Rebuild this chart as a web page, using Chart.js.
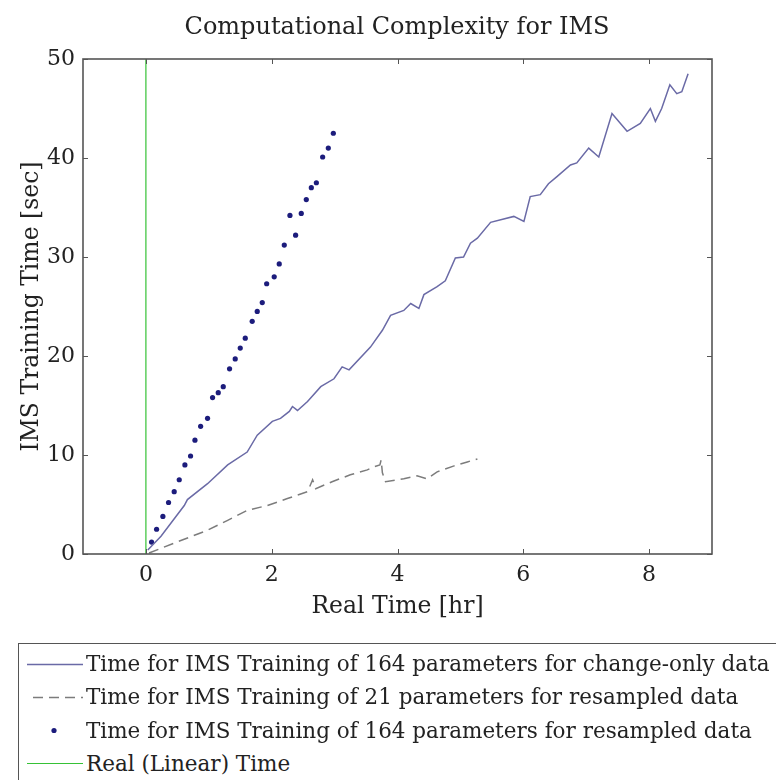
<!DOCTYPE html>
<html>
<head>
<meta charset="utf-8">
<script src="https://cdn.jsdelivr.net/npm/chart.js@4.4.1/dist/chart.umd.min.js"></script>
<style>
    html, body { margin: 0; padding: 0; background: #fff; }
    body { width: 776px; height: 780px; overflow: hidden; position: relative; font-family: "DejaVu Serif", serif; color: #222; }
    #chart-wrapper { position: absolute; left: 0; top: 0; width: 776px; height: 630px; }
    #legend { position: absolute; left: 18px; top: 643px; width: 790px; height: 160px; border: 1.5px solid #555; box-sizing: border-box; }
    .legend-row { position: absolute; left: 0; height: 33px; display: flex; align-items: center; white-space: nowrap; font-size: 21.5px; }
    .legend-row canvas { margin-left: 6px; margin-right: 3px; }
</style>
</head>
<body>
<div id="chart-wrapper"><canvas id="ims-chart"></canvas></div>
<div id="legend"></div>
<script>
const chartTitle = 'Computational Complexity for IMS';
const xTitle = 'Real Time [hr]';
const yTitle = 'IMS Training Time [sec]';

const xTicks = [0, 2, 4, 6, 8];
const yTicks = [0, 10, 20, 30, 40, 50];

const seriesLabels = [
    'Time for IMS Training of 164 parameters for change-only data',
    'Time for IMS Training of 21 parameters for resampled data',
    'Time for IMS Training of 164 parameters for resampled data',
    'Real (Linear) Time',
];

// 164 parameters, change-only data (solid)
const changeOnlyX = [0.03, 0.24, 0.61, 0.66, 0.98, 1.30, 1.61, 1.77, 2.01, 2.14, 2.28, 2.33, 2.41, 2.57, 2.78, 2.99, 3.12, 3.23, 3.57, 3.76, 3.89, 4.10, 4.21, 4.34, 4.42, 4.63, 4.76, 4.92, 5.05, 5.16, 5.27, 5.48, 5.85, 6.01, 6.11, 6.27, 6.40, 6.53, 6.75, 6.85, 7.04, 7.20, 7.41, 7.65, 7.86, 8.02, 8.10, 8.20, 8.33, 8.44, 8.52, 8.62];
const changeOnlyY = [0.4, 1.8, 4.9, 5.5, 7.1, 9.0, 10.3, 12.0, 13.4, 13.7, 14.4, 14.9, 14.5, 15.4, 16.9, 17.7, 18.9, 18.6, 20.9, 22.6, 24.1, 24.6, 25.3, 24.8, 26.2, 27.0, 27.6, 29.9, 30.0, 31.4, 31.9, 33.5, 34.1, 33.6, 36.1, 36.3, 37.4, 38.1, 39.3, 39.5, 41.0, 40.1, 44.5, 42.7, 43.5, 45.0, 43.7, 45.0, 47.4, 46.5, 46.7, 48.5];

// 21 parameters, resampled data (dashed)
const resampled21X = [0.05, 0.45, 0.98, 1.30, 1.61, 1.93, 2.25, 2.57, 2.65, 2.70, 2.96, 3.25, 3.52, 3.62, 3.72, 3.74, 3.76, 3.81, 4.10, 4.31, 4.47, 4.63, 4.90, 5.11, 5.27];
const resampled21Y = [0.1, 1.1, 2.4, 3.4, 4.4, 4.9, 5.6, 6.3, 7.5, 6.6, 7.3, 8.0, 8.5, 8.8, 9.0, 9.5, 8.2, 7.3, 7.6, 7.9, 7.6, 8.3, 8.9, 9.3, 9.6];

// 164 parameters, resampled data (dots)
const resampled164X = [0.09, 0.17, 0.27, 0.36, 0.45, 0.53, 0.62, 0.71, 0.78, 0.87, 0.98, 1.06, 1.15, 1.23, 1.33, 1.42, 1.50, 1.58, 1.69, 1.77, 1.85, 1.92, 2.04, 2.12, 2.20, 2.29, 2.38, 2.47, 2.55, 2.63, 2.71, 2.81, 2.90, 2.98];
const resampled164Y = [1.2, 2.5, 3.8, 5.2, 6.3, 7.5, 9.0, 9.9, 11.5, 12.9, 13.7, 15.8, 16.3, 16.9, 18.7, 19.7, 20.8, 21.8, 23.5, 24.5, 25.4, 27.3, 28.0, 29.3, 31.2, 34.2, 32.2, 34.4, 35.8, 37.0, 37.5, 40.1, 41.0, 42.5];

// real (linear) time
const realTimeX = [0, 0];
const realTimeY = [0, 50];

const toPoints = (xs, ys) => xs.map((x, i) => ({ x, y: ys[i] }));

const serifFont = '"DejaVu Serif", serif';
const textColor = '#222';

const matlabBox = {
    id: 'matlabBox',
    afterDatasetsDraw(chart) {
        const { ctx, chartArea: area, scales } = chart;
        const tickLen = 5;
        ctx.save();
        ctx.strokeStyle = '#555';
        ctx.lineWidth = 1;
        ctx.beginPath();
        scales.x.ticks.forEach((tick) => {
            const px = Math.round(scales.x.getPixelForValue(tick.value)) + 0.5;
            ctx.moveTo(px, area.bottom);
            ctx.lineTo(px, area.bottom - tickLen);
            ctx.moveTo(px, area.top);
            ctx.lineTo(px, area.top + tickLen);
        });
        scales.y.ticks.forEach((tick) => {
            const py = Math.round(scales.y.getPixelForValue(tick.value)) + 0.5;
            ctx.moveTo(area.left, py);
            ctx.lineTo(area.left + tickLen, py);
            ctx.moveTo(area.right, py);
            ctx.lineTo(area.right - tickLen, py);
        });
        ctx.stroke();
        ctx.lineWidth = 1.6;
        ctx.strokeRect(area.left, area.top, area.right - area.left, area.bottom - area.top);
        ctx.restore();
    },
};

const canvas = document.getElementById('ims-chart');

const chart = new Chart(canvas, {
    type: 'scatter',
    data: {
        datasets: [
            {
                label: seriesLabels[0],
                data: toPoints(changeOnlyX, changeOnlyY),
                showLine: true,
                borderColor: '#6a6aa6',
                borderWidth: 1.5,
                pointRadius: 0,
                tension: 0,
            },
            {
                label: seriesLabels[1],
                data: toPoints(resampled21X, resampled21Y),
                showLine: true,
                borderColor: '#7c7c7c',
                borderWidth: 1.5,
                borderDash: [10, 6],
                pointRadius: 0,
                tension: 0,
            },
            {
                label: seriesLabels[2],
                data: toPoints(resampled164X, resampled164Y),
                showLine: false,
                pointRadius: 2.6,
                pointBorderWidth: 0,
                pointBackgroundColor: '#1c1c7c',
                borderColor: '#1c1c7c',
            },
            {
                label: seriesLabels[3],
                data: toPoints(realTimeX, realTimeY),
                showLine: true,
                borderColor: '#36c236',
                borderWidth: 1.2,
                pointRadius: 0,
            },
        ],
    },
    options: {
        responsive: true,
        maintainAspectRatio: false,
        animation: false,
        layout: {
            padding: { left: 18, right: 0, top: 0, bottom: 0 },
        },
        plugins: {
            legend: { display: false },
            tooltip: { enabled: false },
            title: {
                display: true,
                text: chartTitle,
                color: textColor,
                font: { family: serifFont, size: 24, weight: 'normal', lineHeight: 1.2 },
                padding: { top: 13, bottom: 17.2 },
            },
        },
        scales: {
            x: {
                type: 'linear',
                min: -1,
                max: 9,
                afterBuildTicks: (scale) => {
                    scale.ticks = xTicks.map((value) => ({ value }));
                },
                afterFit: (scale) => {
                    scale.height = 76;
                },
                grid: { display: false, drawTicks: false },
                border: { display: false },
                ticks: {
                    color: textColor,
                    padding: 8,
                    font: { family: serifFont, size: 22, lineHeight: 1.2 },
                },
                title: {
                    display: true,
                    text: xTitle,
                    color: textColor,
                    font: { family: serifFont, size: 23.5, lineHeight: 1.2 },
                    padding: { top: 0, bottom: 9 },
                },
            },
            y: {
                type: 'linear',
                min: 0,
                max: 50,
                afterBuildTicks: (scale) => {
                    scale.ticks = yTicks.map((value) => ({ value }));
                },
                afterFit: (scale) => {
                    scale.width = 65;
                },
                grid: { display: false, drawTicks: false },
                border: { display: false },
                ticks: {
                    color: textColor,
                    padding: 8,
                    font: { family: serifFont, size: 22, lineHeight: 1.2 },
                },
                title: {
                    display: true,
                    text: yTitle,
                    color: textColor,
                    font: { family: serifFont, size: 23.5, lineHeight: 1.2 },
                    padding: { top: 0, bottom: 0 },
                },
            },
            // empty right axis, only keeps the plot box clear of the canvas edge
            yRight: {
                type: 'linear',
                position: 'right',
                min: 0,
                max: 50,
                afterFit: (scale) => {
                    scale.width = 64;
                },
                grid: { display: false, drawTicks: false },
                border: { display: false },
                ticks: { display: false },
            },
        },
    },
    plugins: [matlabBox],
});

// legend below the axes, built from the chart's datasets
function buildLegend() {
    const legend = document.getElementById('legend');
    const rowHeight = 33.3;
    chart.data.datasets.forEach((ds, i) => {
        const row = document.createElement('div');
        row.className = 'legend-row';
        row.style.top = `${3 + i * rowHeight}px`;
        const sample = document.createElement('canvas');
        sample.width = 58;
        sample.height = 20;
        const c = sample.getContext('2d');
        if (ds.showLine) {
            c.strokeStyle = ds.borderColor;
            c.lineWidth = ds.borderWidth;
            c.setLineDash(ds.borderDash || []);
            c.beginPath();
            c.moveTo(ds.borderDash ? 8 : 2, 10.5);
            c.lineTo(58, 10.5);
            c.stroke();
        } else {
            c.fillStyle = ds.pointBackgroundColor;
            c.beginPath();
            c.arc(29, 10.5, ds.pointRadius, 0, Math.PI * 2);
            c.fill();
        }
        const text = document.createElement('span');
        text.textContent = ds.label;
        row.appendChild(sample);
        row.appendChild(text);
        legend.appendChild(row);
    });
}

buildLegend();
</script>
</body>
</html>
